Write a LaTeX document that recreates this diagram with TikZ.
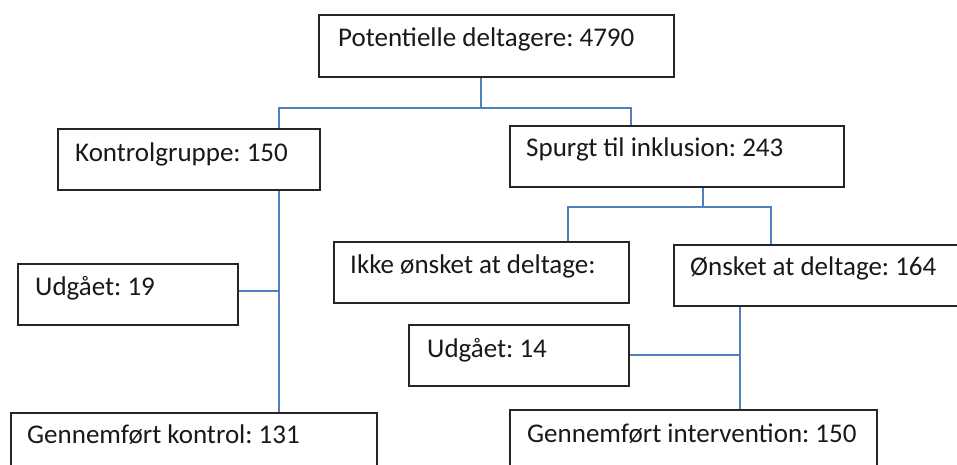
\documentclass[tikz,border=0pt]{standalone}
\usepackage{fontspec}
\setmainfont{Carlito}
\frenchspacing
\begin{document}
\begin{tikzpicture}[x=1pt,y=-1pt,
  box/.style={draw=black!85,line width=1.6pt,rectangle,inner sep=0pt,anchor=north west},
  lbl/.style={anchor=base west,inner sep=0pt,font=\fontsize{27}{32}\selectfont,text=black!90},
  conn/.style={draw={rgb,255:red,79;green,129;blue,189},line width=1.4pt}]
\useasboundingbox (0,0) rectangle (957,465);
\clip (0,0) rectangle (957,465);
\fill[white] (0,0) rectangle (957,465);
% boxes
\node[box,minimum width=355pt,minimum height=62pt] (P) at (318,14) {};
\node[box,minimum width=262pt,minimum height=61pt] (K) at (57,128) {};
\node[box,minimum width=334pt,minimum height=61pt] (S) at (509,125) {};
\node[box,minimum width=220pt,minimum height=61pt] (U1) at (17,263) {};
\node[box,minimum width=366pt,minimum height=70pt] (GK) at (10,412) {};
\node[box,minimum width=295pt,minimum height=61pt] (I) at (333,241) {};
\node[box,minimum width=300pt,minimum height=61pt] (O) at (673,244) {};
\node[box,minimum width=220pt,minimum height=61pt] (U2) at (408,324) {};
\node[box,minimum width=367pt,minimum height=70pt] (GI) at (509,409) {};
% labels
\node[lbl] (tP) at (338,47) {Potentielle deltagere: 4790};
\node[lbl] (tK) at (75,161) {Kontrolgruppe: 150};
\node[lbl] (tS) at (526,157) {Spurgt til inklusion: 243};
\node[lbl] (tU1) at (35,295) {Udgået: 19};
\node[lbl] (tGK) at (27,443) {Gennemført kontrol: 131};
\node[lbl] (tI) at (350,273) {Ikke ønsket at deltage:};
\node[lbl] (tO) at (690,275) {Ønsket at deltage: 164};
\node[lbl] (tU2) at (427,357) {Udgået: 14};
\node[lbl] (tGI) at (527,442) {Gennemført intervention: 150};
% junctions
\coordinate (j1) at (481,108);
\coordinate (jk) at (279,108);
\coordinate (js) at (631,108);
\coordinate (j2) at (703,207);
\coordinate (ji) at (568,207);
\coordinate (jo) at (771,207);
\coordinate (j3) at (279,291);
\coordinate (j4) at (740,355);
% connectors
\draw[conn] (P.south -| j1) -- (j1);
\draw[conn] (K.north -| jk) -- (jk) -- (js) -- (S.north -| js);
\draw[conn] (S.south -| j2) -- (j2);
\draw[conn] (I.north -| ji) -- (ji) -- (jo) -- (O.north -| jo);
\draw[conn] (K.south -| j3) -- (GK.north -| j3);
\draw[conn] (U1.east |- j3) -- (j3);
\draw[conn] (O.south -| j4) -- (GI.north -| j4);
\draw[conn] (U2.east |- j4) -- (j4);
\end{tikzpicture}
\end{document}
